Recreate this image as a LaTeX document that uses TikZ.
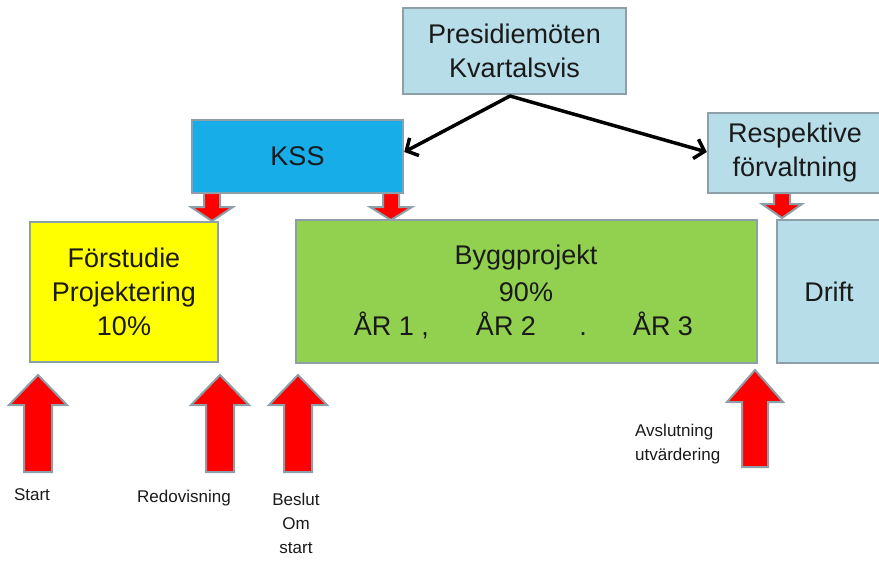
\documentclass[tikz,border=0pt]{standalone}
\usepackage{fontspec}
\setmainfont{Liberation Sans}
\usetikzlibrary{arrows.meta}
\definecolor{bordgray}{HTML}{8DA0AA}
\definecolor{lblue}{HTML}{B7DEE8}
\definecolor{kssblue}{HTML}{17ADE8}
\definecolor{bgreen}{HTML}{92D050}
\definecolor{byellow}{HTML}{FFFF00}
\definecolor{txt}{HTML}{1A1A1A}
\newcommand{\blkarrow}[6]{% x, tip y, head base y, tail y, head half, shaft half
  \draw[blockarrow] (#1,#2) -- (#1+#5,#3) -- (#1+#6,#3) -- (#1+#6,#4) -- (#1-#6,#4) -- (#1-#6,#3) -- (#1-#5,#3) -- cycle;}
\begin{document}
\begin{tikzpicture}[x=1pt,y=-1pt,
  box/.style={draw=bordgray, line width=2.5pt, rectangle, inner sep=0pt, align=center,
    text=txt, font=\fontsize{27}{34}\selectfont},
  btxt/.style={text=txt, font=\fontsize{27}{34}\selectfont, inner sep=0pt},
  blockarrow/.style={fill=red, draw=bordgray, line width=2pt, line join=miter},
  lbl/.style={text=txt, font=\fontsize{17}{24}\selectfont, inner sep=0pt},
  conn/.style={line width=3.5pt, line cap=round, -{Straight Barb[length=9pt,width=20pt]}}]
\useasboundingbox (0,0) rectangle (879,562);
\clip (0,0) rectangle (879,562);
\fill[white] (0,0) rectangle (879,562);
% boxes
\node[box, fill=lblue, minimum width=223pt, minimum height=86pt] (pres) at (514.5,51) {Presidiemöten\\Kvartalsvis};
\node[box, fill=kssblue, minimum width=211pt, minimum height=73pt] (kss) at (297.5,156.5) {KSS};
\node[box, fill=lblue, minimum width=174pt, minimum height=80pt] (resp) at (795,153) {Respektive\\förvaltning};
\node[box, fill=byellow, minimum width=188pt, minimum height=140pt] (forst) at (124,292) {Förstudie\\Projektering\\10\%};
\node[box, fill=bgreen, minimum width=461pt, minimum height=143pt] (bygg) at (526.5,291.5) {};
\node[box, fill=lblue, minimum width=104pt, minimum height=143pt] (drift) at (829,291.5) {Drift};
% Byggprojekt text
\node[btxt] (byggt) at (526,258) {Byggprojekt};
\node[btxt] (byggp) at (526,292) {90\%};
\node[btxt, anchor=base] (ar1) at (384,335) {ÅR 1};
\node[btxt, anchor=base] (komma) at (425,335) {,};
\node[btxt, anchor=base] (ar2) at (506,335) {ÅR 2};
\node[btxt, anchor=base] (punkt) at (583,335) {.};
\node[btxt, anchor=base] (ar3) at (663,335) {ÅR 3};
% black connectors
\coordinate (pb) at (510,96);
\draw[conn] (pb) -- (kss.east |- 0,152);
\draw[conn] (pb) -- (resp.west |- 0,152);
% small down arrows
\blkarrow{212}{221}{207}{193}{21}{8}
\blkarrow{391}{220}{207}{193}{21}{8}
\blkarrow{782}{218}{204}{193}{20}{8}
% big up arrows
\blkarrow{38}{375}{405}{472}{29}{14}
\blkarrow{220}{375}{405}{472}{29}{14}
\blkarrow{298}{375}{405}{472}{29}{14}
\blkarrow{755}{370}{402}{467}{28}{13}
% labels
\node[lbl] (start) at (32,495) {Start};
\node[lbl] (redov) at (184,498) {Redovisning};
\node[lbl, align=center] (beslut) at (296,523) {Beslut\\Om\\start};
\node[lbl, align=left, anchor=west] (avsl) at (635,444) {Avslutning\\utvärdering};
\end{tikzpicture}
\end{document}
